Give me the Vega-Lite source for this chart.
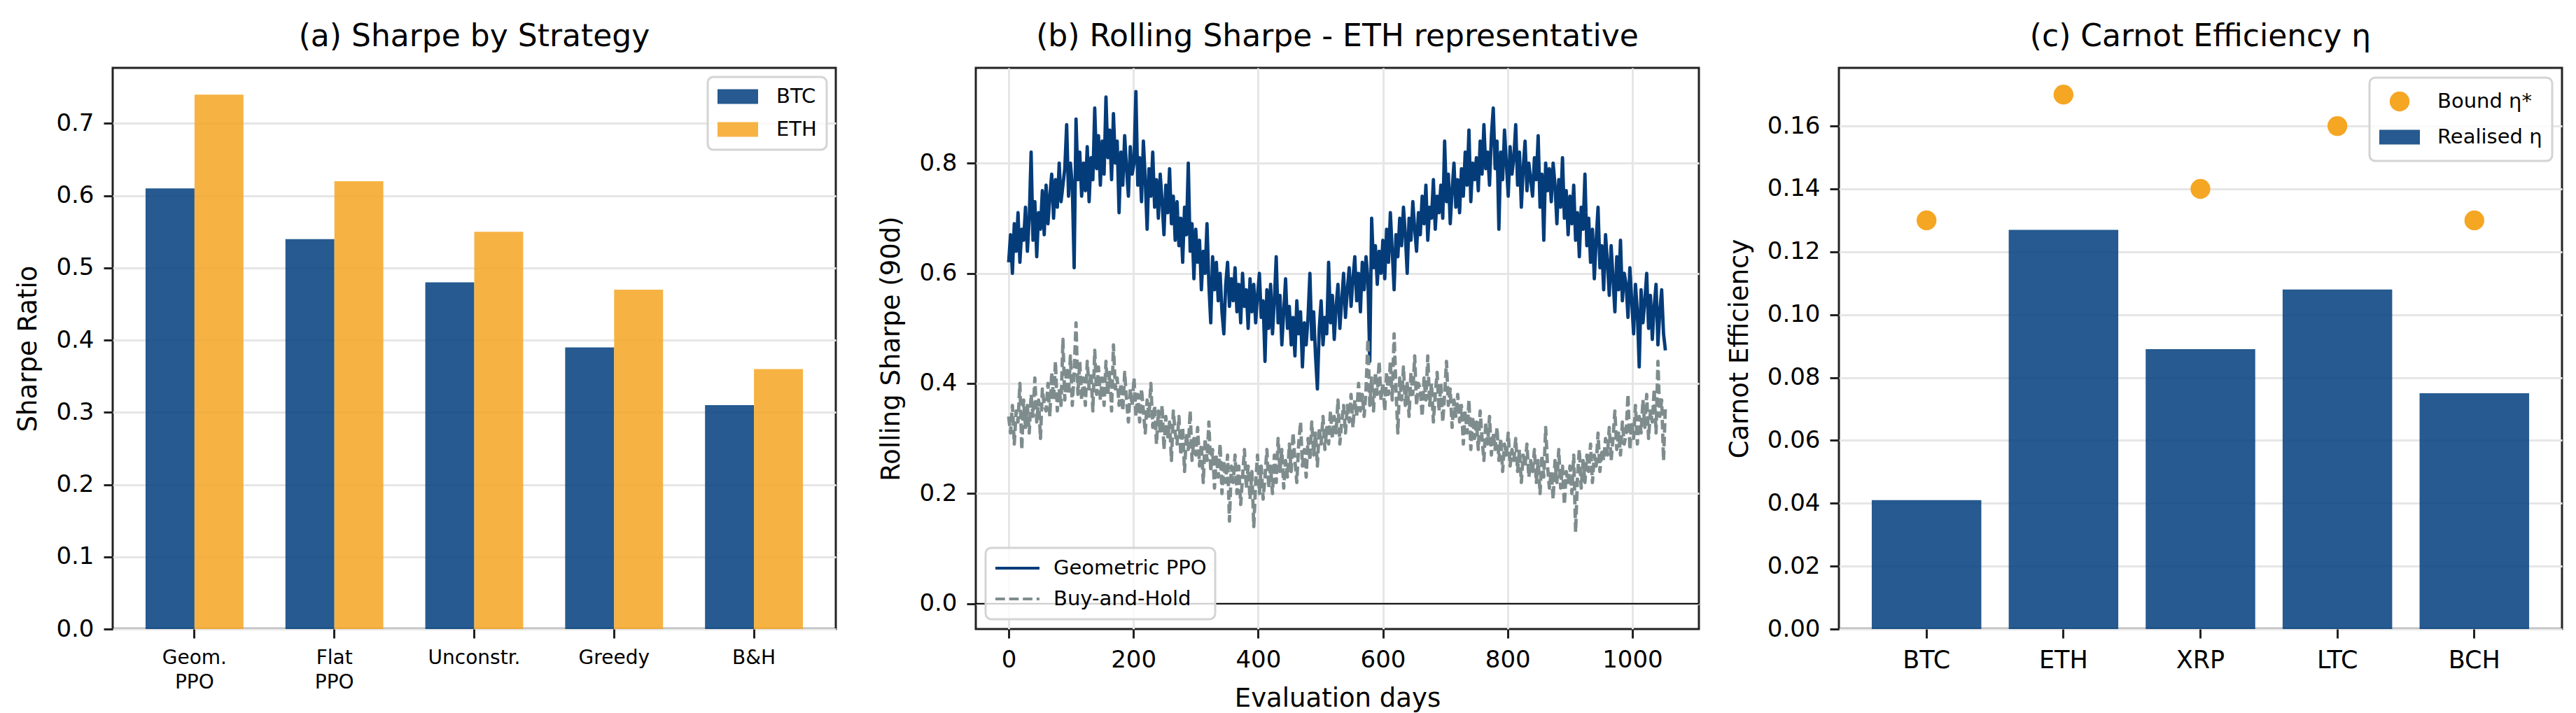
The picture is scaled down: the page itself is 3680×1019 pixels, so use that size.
{
  "$schema": "https://vega.github.io/schema/vega-lite/v6.json",
  "background": "white",
  "padding": {"left": 20, "top": 29, "right": 0, "bottom": 0},
  "spacing": 200,
  "bounds": "flush",
  "config": {
    "font": "DejaVu Sans",
    "view": {"stroke": "#222222", "strokeWidth": 3},
    "title": {"fontSize": 44, "fontWeight": "normal", "color": "#000000", "baseline": "alphabetic", "offset": 22, "anchor": "middle"},
    "axis": {
      "domain": false,
      "tickColor": "#222222",
      "tickWidth": 3,
      "tickSize": 13,
      "labelColor": "#000000",
      "labelFontSize": 34,
      "labelPadding": 14,
      "labelFlush": false,
      "labelOverlap": false,
      "titleFontSize": 37,
      "titleFontWeight": "normal",
      "titleColor": "#000000",
      "titlePadding": 20,
      "gridColor": "#e6e6e6",
      "gridWidth": 3
    },
    "legend": {
      "labelFontSize": 29,
      "labelColor": "#000000",
      "labelLimit": 500,
      "fillColor": "rgba(255,255,255,0.8)",
      "strokeColor": "#d4d4d4",
      "strokeWidth": 3,
      "cornerRadius": 8
    }
  },
  "resolve": {
    "scale": {"color": "independent", "strokeDash": "independent", "shape": "independent", "size": "independent", "opacity": "independent"},
    "legend": {"color": "independent", "strokeDash": "independent", "shape": "independent", "size": "independent", "opacity": "independent"}
  },
  "hconcat": [
    {
      "width": 1033,
      "height": 802,
      "title": "(a) Sharpe by Strategy",
      "data": {
        "values": [
          {"strategy": "Geom. PPO", "coin": "BTC", "sharpe": 0.61},
          {"strategy": "Geom. PPO", "coin": "ETH", "sharpe": 0.74},
          {"strategy": "Flat PPO", "coin": "BTC", "sharpe": 0.54},
          {"strategy": "Flat PPO", "coin": "ETH", "sharpe": 0.62},
          {"strategy": "Unconstr.", "coin": "BTC", "sharpe": 0.48},
          {"strategy": "Unconstr.", "coin": "ETH", "sharpe": 0.55},
          {"strategy": "Greedy", "coin": "BTC", "sharpe": 0.39},
          {"strategy": "Greedy", "coin": "ETH", "sharpe": 0.47},
          {"strategy": "B&H", "coin": "BTC", "sharpe": 0.31},
          {"strategy": "B&H", "coin": "ETH", "sharpe": 0.36}
        ]
      },
      "mark": {"type": "bar", "opacity": 0.85},
      "encoding": {
        "x": {
          "field": "strategy",
          "type": "nominal",
          "sort": null,
          "scale": {"paddingInner": 0.3, "paddingOuter": 0.235},
          "axis": {"title": null, "labelAngle": 0, "labelFontSize": 28, "labelLineHeight": 35, "labelExpr": "split(datum.label, ' ')", "grid": false}
        },
        "xOffset": {"field": "coin", "type": "nominal", "sort": ["BTC", "ETH"], "scale": {"paddingInner": 0, "paddingOuter": 0}},
        "y": {
          "field": "sharpe",
          "type": "quantitative",
          "scale": {"domain": [0, 0.777], "nice": false},
          "axis": {"title": "Sharpe Ratio", "values": [0, 0.1, 0.2, 0.3, 0.4, 0.5, 0.6, 0.7], "format": ".1f", "grid": true}
        },
        "color": {
          "field": "coin",
          "type": "nominal",
          "scale": {"domain": ["BTC", "ETH"], "range": ["#003d7c", "#f5a623"]},
          "legend": {
            "title": null,
            "orient": "top-right",
            "offset": 13,
            "padding": 14,
            "rowPadding": 18,
            "clipHeight": 28,
            "symbolType": "M-1,-0.362H1V0.362H-1Z",
            "symbolSize": 3364,
            "symbolStrokeWidth": 0,
            "symbolOpacity": 0.85,
            "labelOffset": 26
          }
        }
      }
    },
    {
      "width": 1033,
      "height": 802,
      "title": "(b) Rolling Sharpe - ETH representative",
      "layer": [
        {
          "data": {
            "values": [
              {"d":0,"g":0.62,"b":0.34},{"d":3,"g":0.67,"b":0.31},{"d":6,"g":0.60,"b":0.36},{"d":9,"g":0.69,"b":0.29},{"d":12,"g":0.64,"b":0.35},
              {"d":15,"g":0.71,"b":0.33},{"d":18,"g":0.62,"b":0.40},{"d":21,"g":0.68,"b":0.28},{"d":24,"g":0.66,"b":0.37},{"d":27,"g":0.72,"b":0.32},
              {"d":30,"g":0.64,"b":0.36},{"d":33,"g":0.70,"b":0.31},{"d":36,"g":0.82,"b":0.38},{"d":39,"g":0.66,"b":0.34},{"d":42,"g":0.73,"b":0.41},
              {"d":45,"g":0.63,"b":0.33},{"d":48,"g":0.71,"b":0.37},{"d":51,"g":0.68,"b":0.30},{"d":54,"g":0.75,"b":0.39},{"d":57,"g":0.67,"b":0.36},
              {"d":60,"g":0.76,"b":0.35},{"d":63,"g":0.69,"b":0.40},{"d":66,"g":0.74,"b":0.34},{"d":69,"g":0.78,"b":0.42},{"d":72,"g":0.70,"b":0.37},
              {"d":75,"g":0.77,"b":0.44},{"d":78,"g":0.72,"b":0.35},{"d":81,"g":0.80,"b":0.39},{"d":84,"g":0.73,"b":0.36},{"d":87,"g":0.76,"b":0.48},
              {"d":90,"g":0.79,"b":0.37},{"d":93,"g":0.87,"b":0.43},{"d":96,"g":0.74,"b":0.38},{"d":99,"g":0.80,"b":0.45},{"d":102,"g":0.76,"b":0.36},
              {"d":105,"g":0.61,"b":0.42},{"d":108,"g":0.88,"b":0.51},{"d":111,"g":0.77,"b":0.38},{"d":114,"g":0.82,"b":0.44},{"d":117,"g":0.74,"b":0.37},
              {"d":120,"g":0.80,"b":0.41},{"d":123,"g":0.75,"b":0.36},{"d":126,"g":0.83,"b":0.44},{"d":129,"g":0.73,"b":0.39},{"d":132,"g":0.81,"b":0.42},
              {"d":135,"g":0.77,"b":0.35},{"d":138,"g":0.90,"b":0.46},{"d":141,"g":0.79,"b":0.38},{"d":144,"g":0.85,"b":0.43},{"d":147,"g":0.76,"b":0.37},
              {"d":150,"g":0.84,"b":0.41},{"d":153,"g":0.78,"b":0.36},{"d":156,"g":0.92,"b":0.44},{"d":159,"g":0.81,"b":0.38},{"d":162,"g":0.86,"b":0.42},
              {"d":165,"g":0.77,"b":0.35},{"d":168,"g":0.89,"b":0.47},{"d":171,"g":0.80,"b":0.39},{"d":174,"g":0.84,"b":0.41},{"d":177,"g":0.71,"b":0.36},
              {"d":180,"g":0.82,"b":0.40},{"d":183,"g":0.76,"b":0.35},{"d":186,"g":0.85,"b":0.42},{"d":189,"g":0.79,"b":0.37},{"d":192,"g":0.74,"b":0.33},
              {"d":195,"g":0.83,"b":0.39},{"d":198,"g":0.78,"b":0.36},{"d":201,"g":0.80,"b":0.41},{"d":204,"g":0.93,"b":0.34},{"d":207,"g":0.76,"b":0.38},
              {"d":210,"g":0.81,"b":0.33},{"d":213,"g":0.73,"b":0.39},{"d":216,"g":0.84,"b":0.35},{"d":219,"g":0.77,"b":0.31},{"d":222,"g":0.68,"b":0.37},
              {"d":225,"g":0.79,"b":0.34},{"d":228,"g":0.74,"b":0.40},{"d":231,"g":0.82,"b":0.32},{"d":234,"g":0.72,"b":0.36},{"d":237,"g":0.77,"b":0.29},
              {"d":240,"g":0.70,"b":0.35},{"d":243,"g":0.78,"b":0.31},{"d":246,"g":0.73,"b":0.36},{"d":249,"g":0.67,"b":0.28},{"d":252,"g":0.76,"b":0.34},
              {"d":255,"g":0.71,"b":0.30},{"d":258,"g":0.79,"b":0.33},{"d":261,"g":0.69,"b":0.26},{"d":264,"g":0.74,"b":0.35},{"d":267,"g":0.66,"b":0.31},
              {"d":270,"g":0.73,"b":0.29},{"d":273,"g":0.65,"b":0.34},{"d":276,"g":0.70,"b":0.27},{"d":279,"g":0.62,"b":0.32},{"d":282,"g":0.72,"b":0.24},
              {"d":285,"g":0.67,"b":0.31},{"d":288,"g":0.80,"b":0.28},{"d":291,"g":0.64,"b":0.35},{"d":294,"g":0.69,"b":0.26},{"d":297,"g":0.59,"b":0.30},
              {"d":300,"g":0.68,"b":0.27},{"d":303,"g":0.62,"b":0.32},{"d":306,"g":0.66,"b":0.25},{"d":309,"g":0.57,"b":0.29},{"d":312,"g":0.64,"b":0.22},
              {"d":315,"g":0.60,"b":0.30},{"d":318,"g":0.69,"b":0.26},{"d":321,"g":0.58,"b":0.33},{"d":324,"g":0.51,"b":0.24},{"d":327,"g":0.63,"b":0.28},
              {"d":330,"g":0.57,"b":0.21},{"d":333,"g":0.62,"b":0.27},{"d":336,"g":0.55,"b":0.23},{"d":339,"g":0.60,"b":0.29},{"d":342,"g":0.53,"b":0.20},
              {"d":345,"g":0.49,"b":0.26},{"d":348,"g":0.58,"b":0.22},{"d":351,"g":0.62,"b":0.27},{"d":354,"g":0.54,"b":0.15},{"d":357,"g":0.59,"b":0.25},
              {"d":360,"g":0.55,"b":0.22},{"d":363,"g":0.61,"b":0.27},{"d":366,"g":0.53,"b":0.20},{"d":369,"g":0.58,"b":0.25},{"d":372,"g":0.51,"b":0.18},
              {"d":375,"g":0.60,"b":0.23},{"d":378,"g":0.54,"b":0.28},{"d":381,"g":0.57,"b":0.21},{"d":384,"g":0.50,"b":0.25},{"d":387,"g":0.59,"b":0.19},
              {"d":390,"g":0.53,"b":0.24},{"d":393,"g":0.58,"b":0.14},{"d":396,"g":0.51,"b":0.22},{"d":399,"g":0.56,"b":0.27},{"d":402,"g":0.60,"b":0.20},
              {"d":405,"g":0.52,"b":0.25},{"d":408,"g":0.55,"b":0.19},{"d":411,"g":0.44,"b":0.23},{"d":414,"g":0.57,"b":0.28},{"d":417,"g":0.50,"b":0.21},
              {"d":420,"g":0.58,"b":0.25},{"d":423,"g":0.49,"b":0.20},{"d":426,"g":0.55,"b":0.27},{"d":429,"g":0.63,"b":0.22},{"d":432,"g":0.51,"b":0.30},
              {"d":435,"g":0.56,"b":0.24},{"d":438,"g":0.47,"b":0.28},{"d":441,"g":0.53,"b":0.21},{"d":444,"g":0.59,"b":0.26},{"d":447,"g":0.50,"b":0.23},
              {"d":450,"g":0.54,"b":0.29},{"d":453,"g":0.47,"b":0.24},{"d":456,"g":0.52,"b":0.31},{"d":459,"g":0.45,"b":0.26},{"d":462,"g":0.55,"b":0.22},
              {"d":465,"g":0.49,"b":0.29},{"d":468,"g":0.53,"b":0.33},{"d":471,"g":0.43,"b":0.25},{"d":474,"g":0.51,"b":0.28},{"d":477,"g":0.47,"b":0.23},
              {"d":480,"g":0.52,"b":0.30},{"d":483,"g":0.60,"b":0.26},{"d":486,"g":0.48,"b":0.33},{"d":489,"g":0.53,"b":0.27},{"d":492,"g":0.45,"b":0.31},
              {"d":495,"g":0.39,"b":0.25},{"d":498,"g":0.50,"b":0.32},{"d":501,"g":0.55,"b":0.29},{"d":504,"g":0.47,"b":0.34},{"d":507,"g":0.52,"b":0.28},
              {"d":510,"g":0.49,"b":0.32},{"d":513,"g":0.62,"b":0.29},{"d":516,"g":0.51,"b":0.35},{"d":519,"g":0.56,"b":0.30},{"d":522,"g":0.48,"b":0.34},
              {"d":525,"g":0.54,"b":0.31},{"d":528,"g":0.58,"b":0.37},{"d":531,"g":0.50,"b":0.29},{"d":534,"g":0.55,"b":0.33},{"d":537,"g":0.60,"b":0.36},
              {"d":540,"g":0.52,"b":0.31},{"d":543,"g":0.57,"b":0.36},{"d":546,"g":0.61,"b":0.33},{"d":549,"g":0.54,"b":0.38},{"d":552,"g":0.59,"b":0.32},
              {"d":555,"g":0.63,"b":0.37},{"d":558,"g":0.55,"b":0.34},{"d":561,"g":0.60,"b":0.40},{"d":564,"g":0.53,"b":0.35},{"d":567,"g":0.62,"b":0.38},
              {"d":570,"g":0.57,"b":0.34},{"d":573,"g":0.63,"b":0.39},{"d":576,"g":0.59,"b":0.48},{"d":579,"g":0.44,"b":0.36},{"d":582,"g":0.70,"b":0.41},
              {"d":585,"g":0.61,"b":0.35},{"d":588,"g":0.65,"b":0.42},{"d":591,"g":0.58,"b":0.38},{"d":594,"g":0.64,"b":0.44},{"d":597,"g":0.60,"b":0.37},
              {"d":600,"g":0.66,"b":0.40},{"d":603,"g":0.59,"b":0.35},{"d":606,"g":0.68,"b":0.42},{"d":609,"g":0.62,"b":0.38},{"d":612,"g":0.71,"b":0.44},
              {"d":615,"g":0.64,"b":0.37},{"d":618,"g":0.57,"b":0.49},{"d":621,"g":0.67,"b":0.39},{"d":624,"g":0.63,"b":0.31},{"d":627,"g":0.70,"b":0.41},
              {"d":630,"g":0.65,"b":0.37},{"d":633,"g":0.72,"b":0.43},{"d":636,"g":0.67,"b":0.36},{"d":639,"g":0.60,"b":0.40},{"d":642,"g":0.70,"b":0.34},
              {"d":645,"g":0.66,"b":0.42},{"d":648,"g":0.73,"b":0.38},{"d":651,"g":0.68,"b":0.45},{"d":654,"g":0.64,"b":0.36},{"d":657,"g":0.71,"b":0.40},
              {"d":660,"g":0.67,"b":0.39},{"d":663,"g":0.74,"b":0.34},{"d":666,"g":0.69,"b":0.41},{"d":669,"g":0.76,"b":0.37},{"d":672,"g":0.66,"b":0.45},
              {"d":675,"g":0.72,"b":0.36},{"d":678,"g":0.70,"b":0.40},{"d":681,"g":0.77,"b":0.33},{"d":684,"g":0.68,"b":0.38},{"d":687,"g":0.74,"b":0.42},
              {"d":690,"g":0.71,"b":0.35},{"d":693,"g":0.76,"b":0.40},{"d":696,"g":0.70,"b":0.33},{"d":699,"g":0.84,"b":0.38},{"d":702,"g":0.73,"b":0.44},
              {"d":705,"g":0.78,"b":0.36},{"d":708,"g":0.69,"b":0.39},{"d":711,"g":0.75,"b":0.32},{"d":714,"g":0.80,"b":0.37},{"d":717,"g":0.72,"b":0.34},
              {"d":720,"g":0.77,"b":0.38},{"d":723,"g":0.71,"b":0.33},{"d":726,"g":0.79,"b":0.36},{"d":729,"g":0.74,"b":0.29},{"d":732,"g":0.82,"b":0.35},
              {"d":735,"g":0.76,"b":0.31},{"d":738,"g":0.86,"b":0.37},{"d":741,"g":0.73,"b":0.28},{"d":744,"g":0.80,"b":0.34},{"d":747,"g":0.77,"b":0.30},
              {"d":750,"g":0.81,"b":0.33},{"d":753,"g":0.75,"b":0.28},{"d":756,"g":0.84,"b":0.35},{"d":759,"g":0.78,"b":0.30},{"d":762,"g":0.87,"b":0.26},
              {"d":765,"g":0.79,"b":0.33},{"d":768,"g":0.82,"b":0.29},{"d":771,"g":0.76,"b":0.34},{"d":774,"g":0.85,"b":0.27},{"d":777,"g":0.90,"b":0.31},
              {"d":780,"g":0.79,"b":0.28},{"d":783,"g":0.84,"b":0.32},{"d":786,"g":0.68,"b":0.26},{"d":789,"g":0.82,"b":0.30},{"d":792,"g":0.77,"b":0.24},
              {"d":795,"g":0.86,"b":0.29},{"d":798,"g":0.80,"b":0.27},{"d":801,"g":0.74,"b":0.31},{"d":804,"g":0.83,"b":0.25},{"d":807,"g":0.78,"b":0.28},
              {"d":810,"g":0.81,"b":0.26},{"d":813,"g":0.87,"b":0.30},{"d":816,"g":0.76,"b":0.24},{"d":819,"g":0.82,"b":0.28},{"d":822,"g":0.72,"b":0.22},
              {"d":825,"g":0.79,"b":0.27},{"d":828,"g":0.84,"b":0.25},{"d":831,"g":0.75,"b":0.29},{"d":834,"g":0.80,"b":0.23},{"d":837,"g":0.77,"b":0.26},
              {"d":840,"g":0.74,"b":0.24},{"d":843,"g":0.81,"b":0.28},{"d":846,"g":0.77,"b":0.22},{"d":849,"g":0.85,"b":0.26},{"d":852,"g":0.72,"b":0.20},
              {"d":855,"g":0.78,"b":0.27},{"d":858,"g":0.66,"b":0.23},{"d":861,"g":0.80,"b":0.32},{"d":864,"g":0.75,"b":0.25},{"d":867,"g":0.79,"b":0.21},
              {"d":870,"g":0.73,"b":0.24},{"d":873,"g":0.80,"b":0.19},{"d":876,"g":0.76,"b":0.26},{"d":879,"g":0.69,"b":0.22},{"d":882,"g":0.77,"b":0.28},
              {"d":885,"g":0.72,"b":0.21},{"d":888,"g":0.81,"b":0.25},{"d":891,"g":0.70,"b":0.18},{"d":894,"g":0.75,"b":0.24},{"d":897,"g":0.67,"b":0.22},
              {"d":900,"g":0.74,"b":0.25},{"d":903,"g":0.69,"b":0.20},{"d":906,"g":0.76,"b":0.27},{"d":909,"g":0.66,"b":0.13},{"d":912,"g":0.71,"b":0.23},
              {"d":915,"g":0.63,"b":0.28},{"d":918,"g":0.72,"b":0.21},{"d":921,"g":0.68,"b":0.26},{"d":924,"g":0.78,"b":0.22},{"d":927,"g":0.65,"b":0.27},
              {"d":930,"g":0.70,"b":0.24},{"d":933,"g":0.62,"b":0.29},{"d":936,"g":0.68,"b":0.22},{"d":939,"g":0.59,"b":0.27},{"d":942,"g":0.66,"b":0.25},
              {"d":945,"g":0.72,"b":0.31},{"d":948,"g":0.61,"b":0.24},{"d":951,"g":0.65,"b":0.28},{"d":954,"g":0.57,"b":0.26},{"d":957,"g":0.67,"b":0.30},
              {"d":960,"g":0.62,"b":0.27},{"d":963,"g":0.56,"b":0.32},{"d":966,"g":0.65,"b":0.26},{"d":969,"g":0.59,"b":0.30},{"d":972,"g":0.53,"b":0.35},
              {"d":975,"g":0.63,"b":0.28},{"d":978,"g":0.57,"b":0.31},{"d":981,"g":0.66,"b":0.27},{"d":984,"g":0.55,"b":0.33},{"d":987,"g":0.60,"b":0.29},
              {"d":990,"g":0.58,"b":0.31},{"d":993,"g":0.52,"b":0.38},{"d":996,"g":0.61,"b":0.28},{"d":999,"g":0.55,"b":0.33},{"d":1002,"g":0.49,"b":0.30},
              {"d":1005,"g":0.58,"b":0.36},{"d":1008,"g":0.53,"b":0.29},{"d":1011,"g":0.43,"b":0.34},{"d":1014,"g":0.57,"b":0.31},{"d":1017,"g":0.51,"b":0.37},
              {"d":1020,"g":0.55,"b":0.32},{"d":1023,"g":0.60,"b":0.38},{"d":1026,"g":0.50,"b":0.30},{"d":1029,"g":0.56,"b":0.35},{"d":1032,"g":0.48,"b":0.33},
              {"d":1035,"g":0.54,"b":0.39},{"d":1038,"g":0.58,"b":0.31},{"d":1041,"g":0.47,"b":0.44},{"d":1044,"g":0.53,"b":0.34},{"d":1047,"g":0.57,"b":0.37},
              {"d":1050,"g":0.49,"b":0.26},{"d":1053,"g":0.46,"b":0.36}
            ]
          },
          "transform": [{"fold": ["g", "b"], "as": ["series", "sharpe"]}],
          "mark": {"type": "line", "strokeWidth": 4.8, "strokeJoin": "round"},
          "encoding": {
            "x": {
              "field": "d",
              "type": "quantitative",
              "scale": {"domain": [-52.7, 1106.7], "nice": false, "zero": false},
              "axis": {"title": "Evaluation days", "values": [0, 200, 400, 600, 800, 1000], "format": "d", "grid": true}
            },
            "y": {
              "field": "sharpe",
              "type": "quantitative",
              "scale": {"domain": [-0.046, 0.973], "nice": false, "zero": false},
              "axis": {"title": "Rolling Sharpe (90d)", "values": [0, 0.2, 0.4, 0.6, 0.8], "format": ".1f", "grid": true}
            },
            "color": {
              "field": "series",
              "type": "nominal",
              "scale": {"domain": ["g", "b"], "range": ["#043c7a", "#7f8c8d"]},
              "legend": {
                "title": null,
                "orient": "bottom-left",
                "offset": 14,
                "padding": 12,
                "rowPadding": 10,
                "clipHeight": 34,
                "symbolType": "stroke",
                "symbolSize": 3969,
                "symbolStrokeWidth": 4,
                "labelOffset": 18,
                "labelExpr": "datum.label == 'g' ? 'Geometric PPO' : 'Buy-and-Hold'"
              }
            },
            "strokeDash": {
              "field": "series",
              "type": "nominal",
              "scale": {"domain": ["g", "b"], "range": [[1, 0], [13.7, 5.9]]},
              "legend": {
                "title": null,
                "orient": "bottom-left",
                "offset": 14,
                "padding": 12,
                "rowPadding": 10,
                "clipHeight": 34,
                "symbolType": "stroke",
                "symbolSize": 3969,
                "symbolStrokeWidth": 4,
                "labelOffset": 18,
                "labelExpr": "datum.label == 'g' ? 'Geometric PPO' : 'Buy-and-Hold'"
              }
            }
          }
        },
        {
          "data": {"values": [{"level": 0}]},
          "mark": {"type": "rule", "color": "#000000", "strokeWidth": 2},
          "encoding": {"y": {"field": "level", "type": "quantitative"}}
        }
      ]
    },
    {
      "width": 1033,
      "height": 802,
      "title": "(c) Carnot Efficiency η",
      "data": {
        "values": [
          {"coin": "BTC", "realised": 0.041, "bound": 0.13},
          {"coin": "ETH", "realised": 0.127, "bound": 0.17},
          {"coin": "XRP", "realised": 0.089, "bound": 0.14},
          {"coin": "LTC", "realised": 0.108, "bound": 0.16},
          {"coin": "BCH", "realised": 0.075, "bound": 0.13}
        ]
      },
      "layer": [
        {
          "mark": {"type": "bar", "color": "#003d7c", "opacity": 0.85},
          "encoding": {
            "x": {
              "field": "coin",
              "type": "nominal",
              "sort": null,
              "scale": {"paddingInner": 0.2, "paddingOuter": 0.24},
              "axis": {"title": null, "labelAngle": 0, "labelFontSize": 35, "grid": false}
            },
            "y": {
              "field": "realised",
              "type": "quantitative",
              "scale": {"domain": [0, 0.1785], "nice": false},
              "axis": {"title": "Carnot Efficiency", "values": [0, 0.02, 0.04, 0.06, 0.08, 0.1, 0.12, 0.14, 0.16], "format": ".2f", "grid": true}
            }
          }
        },
        {
          "mark": {"type": "point", "filled": true, "strokeWidth": 0},
          "encoding": {
            "x": {"field": "coin", "type": "nominal", "sort": null},
            "y": {
              "field": "bound",
              "type": "quantitative",
              "scale": {"domain": [0, 0.1785], "nice": false},
              "axis": {"title": "Carnot Efficiency", "values": [0, 0.02, 0.04, 0.06, 0.08, 0.1, 0.12, 0.14, 0.16], "format": ".2f", "grid": true}
            },
            "color": {
              "datum": "Bound η*",
              "type": "nominal",
              "scale": {"domain": ["Bound η*", "Realised η"], "range": ["#f5a623", "#003d7c"]},
              "legend": {"title": null, "orient": "top-right", "offset": 14, "padding": 14, "rowPadding": 11, "clipHeight": 40, "symbolStrokeWidth": 0, "labelOffset": 25}
            },
            "shape": {
              "datum": "Bound η*",
              "type": "nominal",
              "scale": {"domain": ["Bound η*", "Realised η"], "range": ["circle", "M-1,-0.362H1V0.362H-1Z"]},
              "legend": {"title": null, "orient": "top-right", "offset": 14, "padding": 14, "rowPadding": 11, "clipHeight": 40, "symbolStrokeWidth": 0, "labelOffset": 25}
            },
            "size": {
              "datum": "Bound η*",
              "type": "nominal",
              "scale": {"type": "ordinal", "domain": ["Bound η*", "Realised η"], "range": [804, 3364]},
              "legend": {"title": null, "orient": "top-right", "offset": 14, "padding": 14, "rowPadding": 11, "clipHeight": 40, "symbolStrokeWidth": 0, "labelOffset": 25}
            },
            "opacity": {
              "datum": "Bound η*",
              "type": "nominal",
              "scale": {"type": "ordinal", "domain": ["Bound η*", "Realised η"], "range": [1, 0.85]},
              "legend": {"title": null, "orient": "top-right", "offset": 14, "padding": 14, "rowPadding": 11, "clipHeight": 40, "symbolStrokeWidth": 0, "labelOffset": 25}
            }
          }
        }
      ]
    }
  ]
}
